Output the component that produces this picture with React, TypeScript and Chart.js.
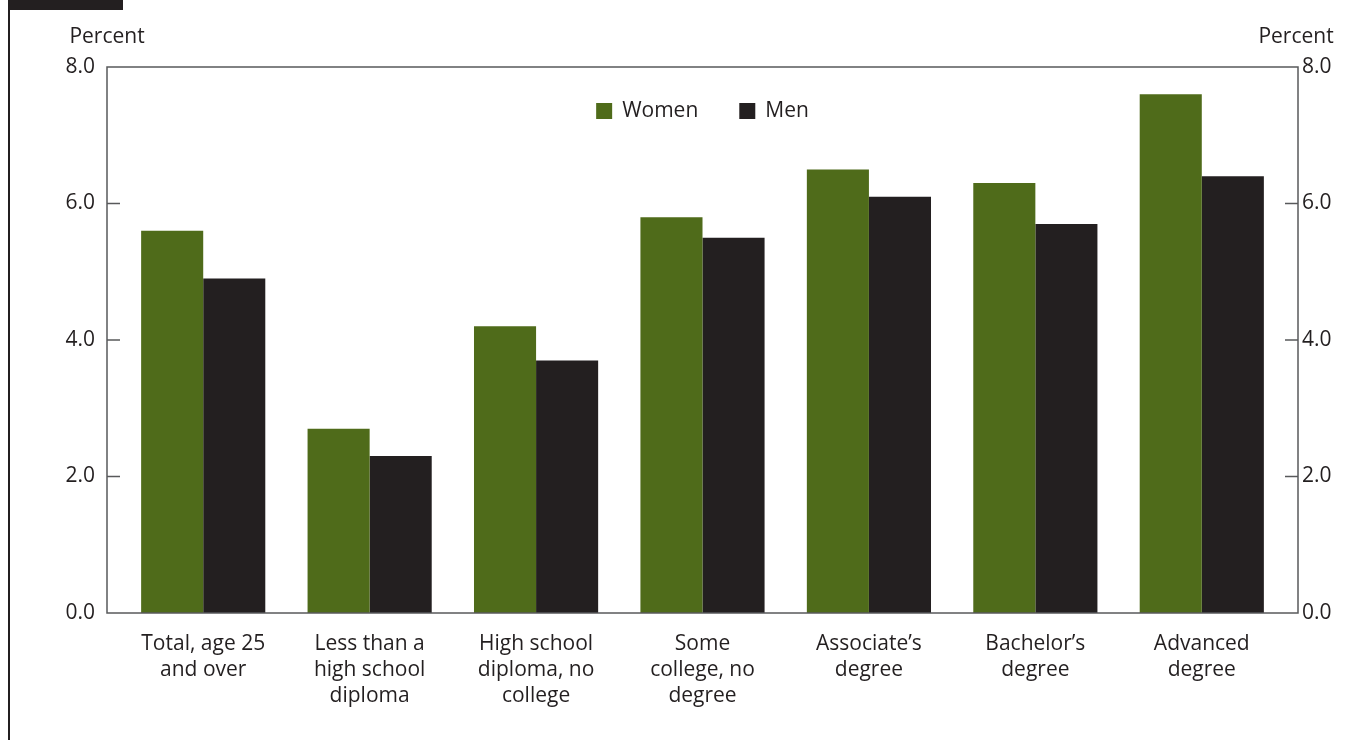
import { useRef, useEffect } from 'react';
import { Chart, registerables } from 'chart.js';

Chart.register(...registerables);

const categories = [
  ['Total, age 25', 'and over'],
  ['Less than a', 'high school', 'diploma'],
  ['High school', 'diploma, no', 'college'],
  ['Some', 'college, no', 'degree'],
  ["Associate\u2019s", 'degree'],
  ["Bachelor\u2019s", 'degree'],
  ['Advanced', 'degree'],
];
const women = [5.6, 2.7, 4.2, 5.8, 6.5, 6.3, 7.6];
const men = [4.9, 2.3, 3.7, 5.5, 6.1, 5.7, 6.4];
const yTicks = [0, 2, 4, 6, 8];

const INK = '#231f20';
const GREEN = '#4f6b1a';
const AXIS = '#58595b';
const FONT = '"Open Sans", "Noto Sans", sans-serif';
// the frame sits this far outside the bars' category band
const INSET = 13;

const framePlugin = {
  id: 'frame',
  afterDatasetsDraw(chart: any) {
    const { ctx, chartArea: a, scales } = chart;
    const left = a.left - INSET;
    const right = a.right + INSET;
    ctx.save();
    ctx.strokeStyle = AXIS;
    ctx.lineWidth = 1.5;
    ctx.strokeRect(left, a.top, right - left, a.bottom - a.top);
    // inward ticks on both value axes
    for (const v of yTicks) {
      if (v === 0 || v === 8) continue;
      const y = scales.y.getPixelForValue(v);
      ctx.beginPath();
      ctx.moveTo(left, y);
      ctx.lineTo(left + INSET, y);
      ctx.moveTo(right, y);
      ctx.lineTo(right - INSET, y);
      ctx.stroke();
    }
    // axis titles
    ctx.fillStyle = INK;
    ctx.font = `21px ${FONT}`;
    ctx.textAlign = 'center';
    ctx.textBaseline = 'middle';
    ctx.fillText('Percent', left, a.top - 30);
    ctx.fillText('Percent', right - 2, a.top - 30);
    // legend inside the plot
    const box = 16, gap = 10, sep = 41;
    const items = chart.data.datasets.map((d: any) => ({
      label: d.label,
      color: d.backgroundColor,
      w: ctx.measureText(d.label).width,
    }));
    let total = 0;
    items.forEach((it: any, i: number) => {
      total += box + gap + it.w + (i < items.length - 1 ? sep : 0);
    });
    let x = (left + right) / 2 - total / 2;
    const cy = a.top + 44;
    ctx.textAlign = 'left';
    for (const it of items) {
      ctx.fillStyle = it.color;
      ctx.fillRect(x, cy - box / 2, box, box);
      ctx.fillStyle = INK;
      ctx.fillText(it.label, x + box + gap, cy);
      x += box + gap + it.w + sep;
    }
    ctx.restore();
  },
};

export default function App() {
  const canvasRef = useRef<HTMLCanvasElement>(null);

  useEffect(() => {
    document.body.style.margin = '0';
    if (!canvasRef.current) return;
    const tickFont = { family: FONT, size: 21 };
    const chart = new Chart(canvasRef.current, {
      type: 'bar',
      data: {
        labels: categories,
        datasets: [
          { label: 'Women', data: women, backgroundColor: GREEN },
          { label: 'Men', data: men, backgroundColor: INK },
        ],
      },
      options: {
        responsive: true,
        maintainAspectRatio: false,
        animation: false,
        layout: { padding: { top: 67, left: 0, right: 0, bottom: 0 } },
        datasets: {
          bar: { categoryPercentage: 0.746, barPercentage: 1.0, borderWidth: 0 },
        },
        plugins: {
          legend: { display: false },
          tooltip: { enabled: false },
        },
        scales: {
          x: {
            grid: { display: false, drawTicks: false },
            border: { display: false },
            ticks: {
              color: INK,
              font: { ...tickFont, lineHeight: 1.24 },
              padding: 18,
              maxRotation: 0,
              autoSkip: false,
            },
            afterFit(scale: any) {
              scale.height = 127;
            },
          },
          y: {
            position: 'left',
            min: 0,
            max: 8,
            grid: { display: false, drawTicks: false },
            border: { display: false },
            afterBuildTicks(scale: any) {
              scale.ticks = yTicks.map((v) => ({ value: v }));
            },
            ticks: {
              color: INK,
              font: tickFont,
              padding: 12 + INSET,
              callback: (v: any) => Number(v).toFixed(1),
            },
            afterFit(scale: any) {
              scale.width = 107 + INSET;
            },
          },
          y2: {
            position: 'right',
            min: 0,
            max: 8,
            grid: { display: false, drawTicks: false },
            border: { display: false },
            afterBuildTicks(scale: any) {
              scale.ticks = yTicks.map((v) => ({ value: v }));
            },
            ticks: {
              color: INK,
              font: tickFont,
              padding: 4 + INSET,
              callback: (v: any) => Number(v).toFixed(1),
            },
            afterFit(scale: any) {
              scale.width = 73 + INSET;
            },
          },
        },
      },
      plugins: [framePlugin],
    });
    return () => {
      chart.destroy();
    };
  }, []);

  return (
    <div style={{ position: 'relative', width: 1371, height: 740, background: '#fff', overflow: 'hidden' }}>
      <div style={{ position: 'absolute', left: 8, top: 0, width: 115, height: 10, background: INK }} />
      <div style={{ position: 'absolute', left: 8, top: 0, width: 1.5, height: 740, background: INK }} />
      <div style={{ position: 'absolute', inset: 0 }}>
        <canvas ref={canvasRef} />
      </div>
    </div>
  );
}
